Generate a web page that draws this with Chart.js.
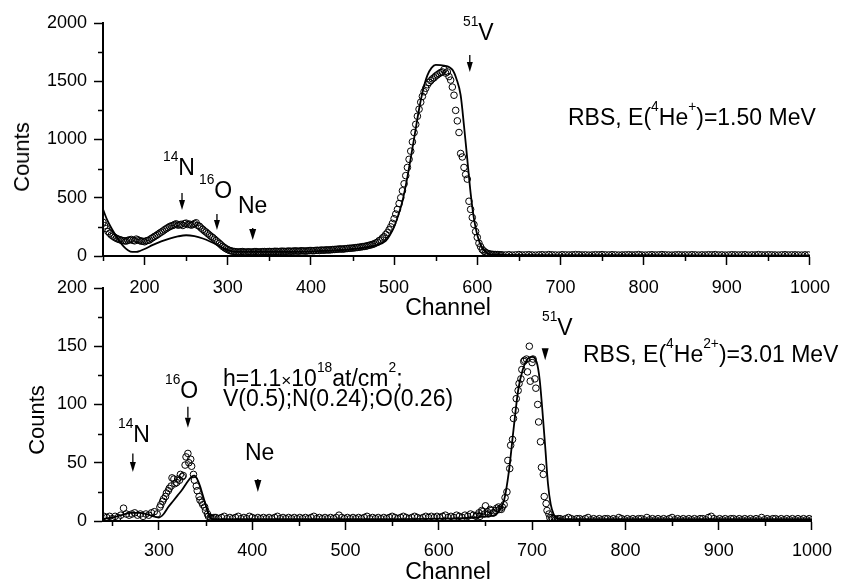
<!DOCTYPE html>
<html><head><meta charset="utf-8">
<script src="https://cdn.jsdelivr.net/npm/chart.js@4.4.1/dist/chart.umd.min.js"></script>
<style>
html,body{margin:0;padding:0;background:#fff;}
#wrap{position:relative;width:842px;height:580px;overflow:hidden;background:#fff;font-family:"Liberation Sans",Arial,sans-serif;color:#000;}
canvas{position:absolute;left:0;}
.t{position:absolute;line-height:1;white-space:nowrap;z-index:5;}
.t sup{font-size:60%;position:relative;top:-0.95em;vertical-align:baseline;line-height:0;}
</style></head>
<body><div id="wrap">
<canvas id="c1" width="842" height="330" style="top:0px"></canvas>
<canvas id="c2" width="842" height="310" style="top:270px"></canvas>
</div>
<script>
// ---------- TOP PANEL (4He+, 1.50 MeV) ----------
const topDataStart = 150, topDataStep = 4;
const topDataCounts = [
  290,235,195,170,152,140,132,128,138,134,
  145,132,126,130,138,158,176,196,214,234,
  252,262,276,268,262,282,274,270,285,255,
  228,205,180,158,132,108,82,62,48,40,
  36,34,38,33,36,35,38,34,37,36,
  39,37,40,38,41,39,42,40,43,41,
  44,42,46,45,48,47,50,52,51,55,
  57,60,58,63,66,68,72,75,80,84,
  92,100,112,132,155,185,225,280,360,450,
  560,690,830,980,1130,1260,1370,1440,1490,1520,
  1545,1565,1580,1570,1540,1450,1250,1060,850,700,
  470,330,210,110,55,30,18,14,12,11,
  10,9,11,8,10,12,9,10,11,9,
  8,10,11,9,12,10,9,8,11,10,
  9,10,12,11,9,10,8,9,11,10,
  12,10,9,11,10,8,9,10,11,9,
  10,12,9,8,10,11,9,10,12,10,
  9,8,10,11,9,10,9,11,10,8,
  10,9,11,10,12,9,10,8,9,11,
  10,9,10,11,8,10,9,12,10,9,
  11,10,9,8,10,11,9,10,10,9,
  8,10,9
];
// interleaved readings (channels 152, 156, ... 628)
const topData2Start = 152, topData2Step = 4;
const topData2Counts = [
  260,210,180,160,145,136,130,135,142,130,
  138,128,122,134,150,168,186,205,225,243,
  258,270,265,272,278,270,265,278,262,240,
  215,192,168,145,120,95,72,55,44,38,
  35,37,34,36,33,37,35,36,38,37,
  38,40,39,41,40,42,41,44,42,45,
  43,45,47,46,49,51,50,53,54,56,
  58,61,62,65,67,70,74,78,82,88,
  95,104,118,138,165,200,250,320,400,500,
  620,760,900,1060,1200,1320,1410,1470,1505,1530,
  1555,1575,1600,1580,1510,1380,1160,880,760,660,
  400,270,160,80,42,24,16,13,12,10
];
const topFitCh = [150,155,160,165,170,175,180,185,190,195,200,210,220,230,240,250,260,270,280,290,300,310,350,400,450,480,490,495,500,505,510,515,520,525,530,535,540,545,550,560,570,575,580,584,588,592,596,600,605,610,615,620,700,800,900,1000];
const topFitCounts = [400,310,240,180,125,80,50,35,35,45,60,95,125,150,168,178,170,150,120,85,50,35,35,40,60,95,130,180,250,350,470,640,840,1050,1260,1430,1550,1615,1640,1635,1600,1520,1380,1120,830,540,320,180,80,35,15,10,8,7,6,6];
const topXTicks = [200,300,400,500,600,700,800,900,1000];
const topXMinor = [150,250,350,450,550,650,750,850,950];
const topYTicks = [0,500,1000,1500,2000];
const topYMinor = [250,750,1250,1750];
const topArrows = [
  {x:245, from:540, to:395, head:10, hw:3},
  {x:287, from:360, to:223, head:10, hw:3},
  {x:330, from:240, to:137, head:11, hw:3.5},
  {x:591, from:1725, to:1579, head:10, hw:3}
];

// ---------- BOTTOM PANEL (4He2+, 3.01 MeV) ----------
const botDataStart = 241, botDataStep = 3;
const botDataCounts = [
  4,3,4,2,4,3,5,11,6,5,
  6,7,5,6,4,6,5,7,8,6,
  12,17,21,26,30,36,33,35,38,48,
  58,53,40,30,21,16,12,6,3,2,
  3,2,3,4,2,3,2,3,4,2,
  3,2,4,3,2,3,2,3,2,3,
  2,3,4,2,3,2,3,2,3,2,
  3,2,3,2,3,4,2,3,2,3,
  2,3,2,3,5,3,2,3,2,3,
  2,3,2,3,4,2,3,2,3,2,
  3,2,3,4,3,2,3,4,3,2,
  3,4,3,2,3,4,3,4,3,4,
  3,4,5,3,4,3,5,4,3,5,
  4,6,5,4,7,9,6,8,10,7,
  9,12,10,14,25,45,70,95,112,122,
  137,139,150,136,122,100,68,40,15,6,
  3,2,1,2,1,2,3,2,1,2,
  2,1,2,3,1,2,1,2,1,2,
  2,1,2,1,3,2,1,2,1,2,
  1,2,2,1,3,1,2,1,2,1,
  2,1,2,3,1,2,1,2,1,2,
  1,2,1,2,2,1,3,4,2,1,
  2,1,2,1,2,2,1,2,1,2,
  1,2,1,2,1,3,1,2,1,2,
  2,1,2,1,2,1,2,1,2,1,
  2,1,2,1
];
// extra readings in the 16O peak (channels 302 ... 359)
const botOStart = 302, botOStep = 3;
const botOCounts = [14,19,24,28,37,32,36,40,39,55,50,47,35,26,18,14,9,4,2,3];
// extra readings in the 51V peak (channels 641 ... 728)
const botVStart = 641, botVStep = 3;
const botVCounts = [5,4,8,13,6,9,7,11,10,12,20,52,65,88,105,118,130,138,128,120,139,114,85,46,21,9,3,2,1,2];
const botFitCh = [240,250,260,270,280,290,300,305,310,315,320,325,330,335,338,341,344,347,350,353,356,360,400,500,600,640,650,660,665,670,675,680,685,690,695,700,705,708,711,714,717,720,723,727,735,800,900,1000];
const botFitCounts = [2,3,5,7,7,5,3,6,12,17,22,27,33,38,39,36,30,22,14,6,2,1.5,1.5,1.5,2,3,4,5,9,18,42,78,112,130,139,141,136,122,95,64,32,14,6,2,1.5,1.5,1.5,1.5];
const botXTicks = [300,400,500,600,700,800,900,1000];
const botXMinor = [250,350,450,550,650,750,850,950];
const botYTicks = [0,50,100,150,200];
const botYMinor = [25,75,125,175];
const botArrows = [
  {x:272, from:58, to:42, head:10, hw:3},
  {x:331, from:98, to:80, head:10, hw:3},
  {x:406, from:36, to:25, head:12, hw:3.5},
  {x:714, from:148.5, to:138, head:12, hw:3.5}
];

// ---------- helpers ----------
const FONT = '"Liberation Sans", Arial, sans-serif';
const decor = {
  id: 'decor',
  afterDatasetsDraw(chart, args, opts) {
    const ctx = chart.ctx, xs = chart.scales.x, ys = chart.scales.y;
    ctx.save();
    ctx.strokeStyle = '#000'; ctx.fillStyle = '#000'; ctx.lineWidth = 1.5;
    (opts.minorX || []).forEach(v => {
      const px = Math.round(xs.getPixelForValue(v)) + 0.5;
      ctx.beginPath(); ctx.moveTo(px, ys.bottom); ctx.lineTo(px, ys.bottom + 5); ctx.stroke();
    });
    (opts.minorY || []).forEach(v => {
      const py = Math.round(ys.getPixelForValue(v)) + 0.5;
      ctx.beginPath(); ctx.moveTo(xs.left, py); ctx.lineTo(xs.left - 5, py); ctx.stroke();
    });
    (opts.arrows || []).forEach(a => {
      const px = xs.getPixelForValue(a.x), y1 = ys.getPixelForValue(a.from), y2 = ys.getPixelForValue(a.to);
      const head = Math.min(a.head, y2 - y1);
      ctx.lineWidth = 1.3;
      if (y2 - head > y1 + 0.5) { ctx.beginPath(); ctx.moveTo(px, y1); ctx.lineTo(px, y2 - head); ctx.stroke(); }
      ctx.beginPath(); ctx.moveTo(px - a.hw, y2 - head); ctx.lineTo(px + a.hw, y2 - head); ctx.lineTo(px, y2); ctx.closePath(); ctx.fill();
    });
    ctx.restore();
  }
};

function series(start, step, counts) {
  return counts.map((c, i) => ({x: start + step * i, y: c}));
}

function makeChart(id, cfg) {
  const dataPts = cfg.sets.flatMap(s => series(s[0], s[1], s[2]));
  const fitPts = cfg.fitCh.map((c, i) => ({x: c, y: cfg.fitCounts[i]}));
  return new Chart(document.getElementById(id), {
    type: 'scatter',
    data: { datasets: [
      { label: 'Experiment', data: dataPts, showLine: false, pointStyle: 'circle', pointRadius: 3.3,
        pointBorderWidth: 1, borderColor: '#000', pointBorderColor: '#000', backgroundColor: 'rgba(0,0,0,0)', pointBackgroundColor: 'rgba(0,0,0,0)', order: 2 },
      { label: 'Simulation', data: fitPts, showLine: true, pointRadius: 0, borderColor: '#000', borderWidth: 1.8,
        cubicInterpolationMode: 'monotone', fill: false, order: 1 }
    ]},
    options: {
      responsive: false, animation: false, events: [],
      layout: { padding: { top: cfg.padTop, right: 30, bottom: 0, left: 0 } },
      plugins: { legend: { display: false }, tooltip: { enabled: false },
        decor: { minorX: cfg.minorX, minorY: cfg.minorY, arrows: cfg.arrows } },
      scales: {
        x: { type: 'linear', min: cfg.xMin, max: 1000,
          afterFit: s => { s.height = cfg.xHeight; },
          afterBuildTicks: s => { s.ticks = cfg.xTicks.map(v => ({value: v})); },
          ticks: { color: '#000', font: { family: FONT, size: 18 }, padding: cfg.xPad, maxRotation: 0, autoSkip: false,
            callback: v => String(v) },
          grid: { drawOnChartArea: false, drawTicks: true, tickLength: 9, tickWidth: 1.5, tickColor: '#000', color: '#000' },
          border: { display: true, color: '#000', width: 2 } },
        y: { type: 'linear', min: 0, max: cfg.yMax,
          afterFit: s => { s.width = 103; },
          afterBuildTicks: s => { s.ticks = cfg.yTicks.map(v => ({value: v})); },
          ticks: { color: '#000', font: { family: FONT, size: 18 }, padding: 7, autoSkip: false, callback: v => String(v) },
          grid: { drawOnChartArea: false, drawTicks: true, tickLength: 9, tickWidth: 1.5, tickColor: '#000', color: '#000' },
          border: { display: true, color: '#000', width: 2 } }
      }
    },
    plugins: [decor]
  });
}

makeChart('c1', { sets: [[topDataStart, topDataStep, topDataCounts], [topData2Start, topData2Step, topData2Counts]],
  fitCh: topFitCh, fitCounts: topFitCounts,
  xMin: 150, yMax: 2000, xTicks: topXTicks, yTicks: topYTicks, minorX: topXMinor, minorY: topYMinor, arrows: topArrows,
  padTop: 23, xHeight: 74, xPad: 12 });
makeChart('c2', { sets: [[botDataStart, botDataStep, botDataCounts], [botOStart, botOStep, botOCounts], [botVStart, botVStep, botVCounts]],
  fitCh: botFitCh, fitCounts: botFitCounts,
  xMin: 240, yMax: 200, xTicks: botXTicks, yTicks: botYTicks, minorX: botXMinor, minorY: botYMinor, arrows: botArrows,
  padTop: 18, xHeight: 59, xPad: 10 });

// ---------- text overlays ----------
const wrap = document.getElementById('wrap');
function addText(html, left, baseline, size) {
  const d = document.createElement('div');
  d.className = 't'; d.innerHTML = html;
  d.style.fontSize = size + 'px';
  d.style.left = left + 'px';
  d.style.top = (baseline - 0.8465 * size) + 'px';
  wrap.appendChild(d);
}
function addCentered(html, cx, cy, size, rotate) {
  const d = document.createElement('div');
  d.className = 't'; d.innerHTML = html;
  d.style.fontSize = size + 'px';
  d.style.left = cx + 'px'; d.style.top = cy + 'px';
  d.style.transform = 'translate(-50%,-50%)' + (rotate ? ' rotate(-90deg)' : '');
  wrap.appendChild(d);
}
// top
addText('<sup>14</sup>N', 163, 175, 23);
addText('<sup>16</sup>O', 199, 198, 23);
addText('Ne', 238, 213, 23);
addText('<sup>51</sup>V', 463, 40, 23);
addText('RBS, E(<sup>4</sup>He<sup>+</sup>)=1.50 MeV', 568, 125, 23);
addCentered('Counts', 22, 157, 22, true);
addCentered('Channel', 448, 307, 23, false);
// bottom
addText('<sup>14</sup>N', 118, 442, 23);
addText('<sup>16</sup>O', 165, 398, 23);
addText('Ne', 245, 460, 23);
addText('h=1.1<span style="font-size:75%">×</span>10<sup>18</sup>at/cm<sup>2</sup>;', 223, 386, 23);
addText('V(0.5);N(0.24);O(0.26)', 223, 406, 23);
addText('<sup>51</sup>V', 542, 335, 23);
addText('RBS, E(<sup>4</sup>He<sup>2+</sup>)=3.01 MeV', 583, 362, 23);
addCentered('Counts', 37, 420, 22, true);
addCentered('Channel', 448, 571, 23, false);
</script>
</body></html>
